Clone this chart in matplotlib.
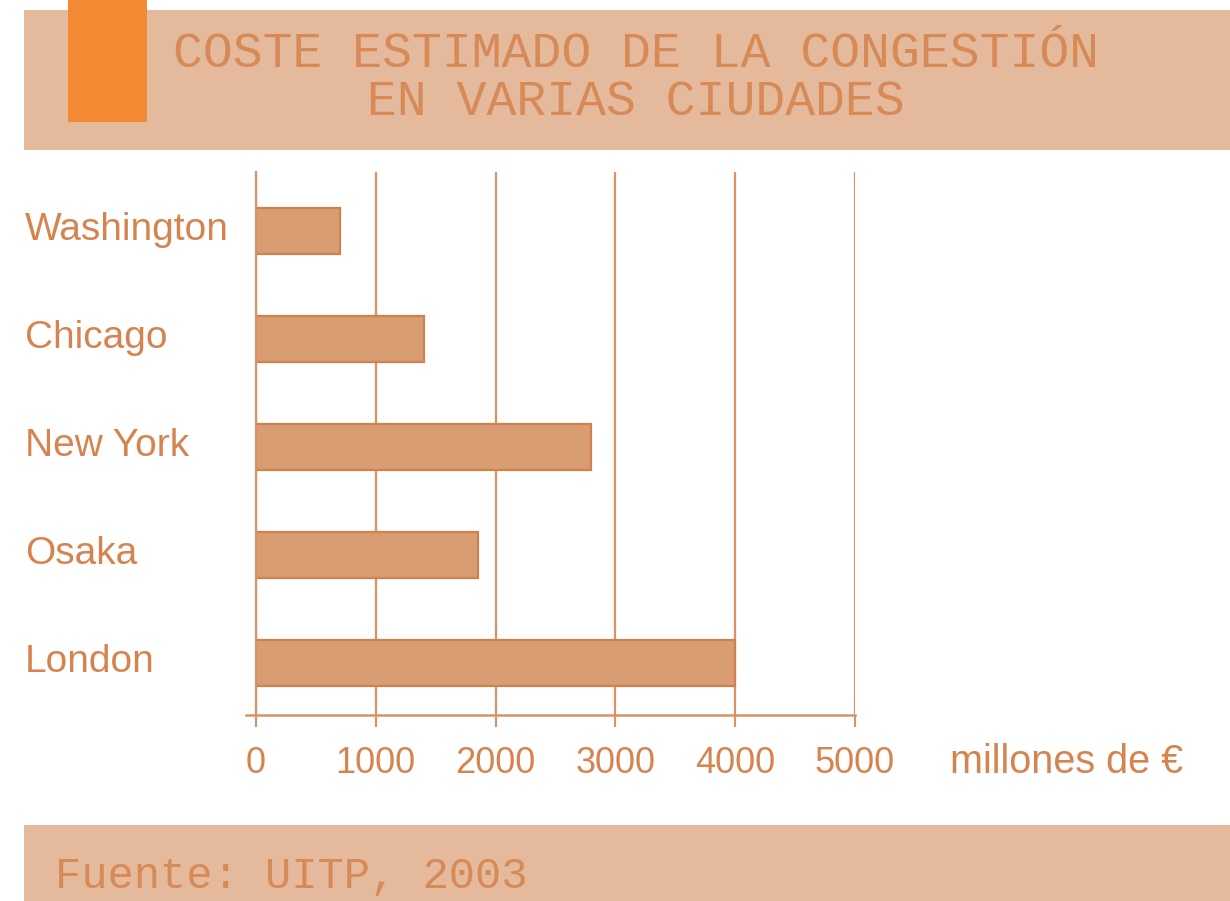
import matplotlib
matplotlib.use("Agg")
from matplotlib import patches
from matplotlib import pyplot as plt
from matplotlib import transforms
from matplotlib.lines import Line2D

cities = ["Washington", "Chicago", "New York", "Osaka", "London"]
costs = [700, 1400, 2800, 1850, 4000]
x_ticks = [0, 1000, 2000, 3000, 4000, 5000]

title = "COSTE ESTIMADO DE LA CONGESTIÓN\nEN VARIAS CIUDADES"
source = "Fuente: UITP, 2003"
unit = "millones de €"

W, H = 1230, 901
BAND = "#E4B99C"
ACCENT = "#F48934"
TEXT = "#D6844F"
LINE = "#DB9164"
BAR_FILL = "#D99D73"
BAR_EDGE = "#D2804C"


def fx(px):
    return px / W


def fy(py):
    return 1 - py / H


def main():
    fig = plt.figure(figsize=(W / 100, H / 100), dpi=100)
    fig.patch.set_facecolor("white")

    # header and footer bands
    fig.patches.append(patches.Rectangle((fx(24), fy(150)), fx(W - 24), 140 / H,
                                         transform=fig.transFigure, facecolor=BAND,
                                         edgecolor="none", zorder=0))
    fig.patches.append(patches.Rectangle((fx(68), fy(122)), fx(79), 122 / H,
                                         transform=fig.transFigure, facecolor=ACCENT,
                                         edgecolor="none", zorder=1))
    fig.patches.append(patches.Rectangle((fx(24), 0), fx(W - 24), (H - 825) / H,
                                         transform=fig.transFigure, facecolor=BAND,
                                         edgecolor="none", zorder=0))

    fig.text(fx(636), fy(78), title, ha="center", va="center", family="Liberation Mono",
             fontsize=35.8, color=TEXT, linespacing=1.05, alpha=0.9)
    fig.text(fx(55), fy(876), source, ha="left", va="center", family="Liberation Mono",
             fontsize=31.5, color=TEXT, alpha=0.9)
    fig.text(fx(950), fy(762), unit, ha="left", va="center", family="Liberation Sans",
             fontsize=28.5, color=TEXT)

    ax = fig.add_axes([fx(256), fy(715), fx(855 - 256), (715 - 172) / H])
    ax.set_facecolor("none")
    y = list(range(len(cities)))
    ax.barh(y, costs, height=0.42, color=BAR_FILL, edgecolor=BAR_EDGE, linewidth=1.6, zorder=3)

    ax.set_xlim(0, 5000)
    ax.set_ylim(4.48, -0.546)
    ax.set_xticks(x_ticks)
    ax.set_xticklabels([str(t) for t in x_ticks], family="Liberation Sans", fontsize=26, color=TEXT)
    ax.set_yticks([])

    # city names, left-aligned at the figure edge
    label_tr = transforms.blended_transform_factory(fig.transFigure, ax.transData)
    label_tr = label_tr + transforms.ScaledTranslation(0, 1 / 100, fig.dpi_scale_trans)
    for yi, city in zip(y, cities):
        ax.text(fx(25), yi, city, transform=label_tr, ha="left", va="center",
                family="Liberation Sans", fontsize=28, color=TEXT, clip_on=False)

    ax.tick_params(axis="x", length=12 * 0.72, width=1.5, color=LINE, pad=14)

    ax.grid(axis="x", color=LINE, linewidth=1.6, zorder=1)
    ax.grid(axis="y", visible=False)
    for side in ["top", "right"]:
        ax.spines[side].set_visible(False)
    ax.spines["left"].set_color(LINE)
    ax.spines["left"].set_linewidth(1.6)
    ax.spines["left"].set_zorder(4)
    ax.spines["bottom"].set_visible(False)
    # bottom axis line, reaching a bit left of zero
    fig.add_artist(Line2D([fx(246), fx(855)], [fy(715), fy(715)], color=LINE,
                          linewidth=1.8, transform=fig.transFigure))

    fig.savefig("out.png", dpi=100)


if __name__ == "__main__":
    main()
